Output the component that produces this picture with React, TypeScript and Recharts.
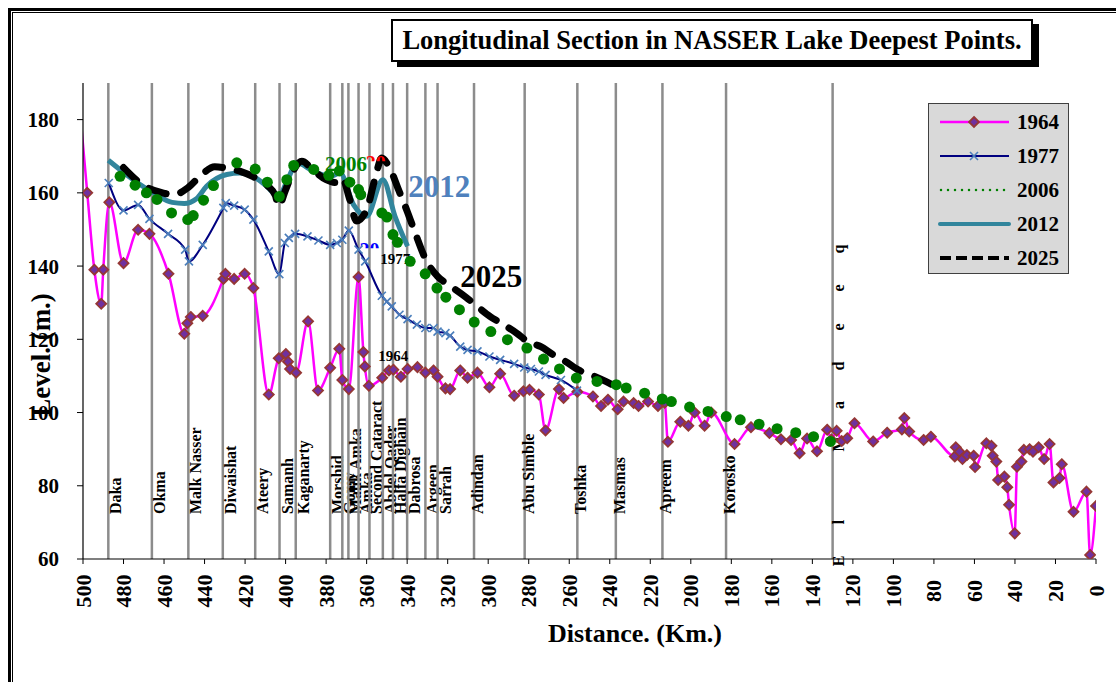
import React from "react";
import {
  LineChart,
  Line,
  XAxis,
  YAxis,
  ReferenceLine,
  ReferenceDot,
  Legend,
} from "recharts";

const FONT = '"Liberation Serif", "Times New Roman", Times, serif';

// 1964 survey (km from dam, level m)
const km1964 = [
  503.5, 497.9, 494.4, 491, 490, 487, 480, 472.8, 467.2, 457.8, 450, 448.5, 446.8, 440.9,
  430.7, 429.7, 425.4, 420.2, 415.9, 408.3, 403.4, 399.9, 398.8, 397.8, 394.8, 388.9,
  384, 378, 373.5, 372, 368.8, 364, 361.6, 360.9, 358.9, 352.3, 349, 346.8, 343.1,
  339.8, 334.9, 331, 327, 325, 321.1, 318.8, 313.8, 310.2, 305.3, 299.4, 294.1, 287.2,
  282.6, 279.6, 275, 271.7, 265.1, 262.8, 256, 248.3, 244.3, 240.9, 236.1, 233.2,
  228.2, 225.8, 221.1, 216.2, 212.9, 211.3, 205.2, 201.2, 198.1, 193.2, 189.9, 178.4,
  170.3, 161.2, 155.5, 150.5, 146.3, 142.6, 137.7, 132.7, 130.6, 128, 125.5, 122.8,
  119.2, 110, 103.1, 95.8, 94.6, 92.2, 85.1, 81.5, 69.7, 69.2, 67.4, 65.9, 63.7, 60.4,
  59.7, 54.1, 51.6, 51, 49.2, 48.3, 45.2, 43.8, 42.9, 40.1, 39, 36.8, 35.6, 32.8, 31.1,
  28.3, 25.6, 22.9, 21, 18, 16.9, 11.1, 4.7, 2.9, 0,
];
const lv1964 = [
  195, 160, 139, 129.7, 139, 157.4, 140.8, 149.9, 148.8, 137.9, 121.5, 124.4, 126.1, 126.4,
  136.5, 137.9, 136.5, 137.9, 134, 104.9, 114.8, 116, 113.9, 111.9, 110.9, 124.9,
  106, 112.2, 117.4, 108.9, 106.4, 137, 116.5, 112.6, 107.3, 109.5, 111.5, 111.7, 109.8,
  111.9, 112.4, 110.9, 111.5, 109.8, 106.6, 106.4, 111.5, 109.5, 110.9, 106.9, 110.6, 104.6,
  105.8, 106.2, 104.9, 95.1, 106.4, 104, 105.7, 104.4, 101.8, 103.5, 100.9, 103,
  102.6, 101.8, 103, 101.8, 102.7, 92, 97.5, 96.4, 100, 96.4, 100, 91.4,
  96, 94.4, 92.7, 92.5, 88.9, 92.9, 89.4, 95.3, 92.6, 95, 92.2, 93,
  97.1, 92.1, 94.5, 95.4, 98.5, 94.8, 92.5, 93.4, 88, 90.5, 89.3, 87.3, 88.4, 88.2,
  85.1, 91.6, 90.9, 88.2, 86.6, 81.6, 82.5, 79.6, 74.8, 67, 85.2, 86.6, 89.8, 90, 89.3,
  90.5, 87.3, 91.4, 80.9, 82.1, 85.9, 72.9, 78.4, 61.1, 74.5,
];

const km1977 = [
  487.3, 480, 472.8, 467.2, 458, 449.6, 447.7, 440.9, 430.7, 429.5, 425.4, 420.2, 415.9,
  408.3, 403.1, 400.4, 398.4, 395.3, 389.2, 383.8, 378, 374.7, 372, 368.8, 364, 360.7,
  352.5, 350, 347.6, 343.8, 339.8, 335.2, 331, 327, 325, 321.1, 318.8, 313.8, 310.2,
  305.3, 299.4, 294.1, 287.2, 282.2, 278.9, 275, 271.7, 264.1, 256.2,
];
const lv1977 = [
  162.7, 155.2, 156.7, 152.9, 148.8, 144.5, 141.3, 145.8, 155.9, 157.2, 156.5, 155.4, 152.7,
  144, 137.8, 146.3, 147.7, 148.8, 148.1, 147, 145.8, 146.3, 147.2, 149.7, 144.5, 141.3,
  131.9, 130.3, 129, 126.7, 125.5, 124, 123.1, 123.1, 122.1, 121.7, 121, 118, 117.1,
  116.7, 115.3, 114.4, 113.3, 112.3, 111.9, 111.2, 110.3, 108.9, 106,
];

const km2006 = [
  481.7, 474.3, 468.7, 463.5, 456.3, 448.3, 445.6, 440.5, 435.6, 424.1, 415, 409, 403.1,
  399.4, 396, 386.1, 378.7, 373.5, 368.3, 364, 362.9, 352.5, 350, 347, 344.8, 338.5,
  331.1, 325.3, 320.9, 314.2, 306.9, 298.7, 290.5, 280.9, 272.7, 264.8, 256.5, 246.3,
  236.8, 231.9, 222.8, 214.1, 209.6, 200.6, 191.5, 182.5, 175.6, 166.3, 157.4, 148.2,
  139.4, 131.1,
];
const lv2006 = [
  164.5, 162.1, 160, 158.2, 154.5, 152.7, 153.8, 158, 162, 168.2, 166.5, 162.9, 159,
  163.6, 167.5, 166.4, 164.8, 166, 162.9, 160.9, 159.5, 154.5, 153.4, 148.6, 146.5, 141.3,
  137.9, 134, 131.5, 128.1, 124.7, 122.1, 119.9, 117.6, 114.6, 111.9, 109.4, 108.5,
  107.6, 106.7, 105.3, 103.7, 103, 101.5, 100.3, 98.9, 98, 96.8, 95.6, 94.5,
  93.4, 92.1,
];

const km2012 = [
  487.5, 475.2, 465.3, 456, 450, 444, 439, 429, 422.5, 416, 409.3, 403.6, 398.6, 394.5,
  386.3, 378, 373.1, 366.5, 360, 352, 346, 339.8,
];
const lv2012 = [
  168.9, 163.6, 160, 157.4, 157.1, 158.4, 161.8, 165, 165.4, 164.5, 161.8, 159, 164.1, 168.2,
  165.9, 164.5, 165.4, 156.8, 153.6, 163.6, 153.6, 145.4,
];

const km2025 = [
  480, 470, 462, 455, 448, 441, 435, 428, 422, 416, 409, 405, 403.5, 400, 396, 392, 386,
  380, 375.5, 372, 368.5, 365, 360, 356, 352.5, 349, 344, 340, 336, 331, 325, 320, 316,
  311, 305, 299, 293, 286, 280, 274, 268, 262, 255, 248, 242, 237,
];
const lv2025 = [
  166.9, 162, 160.2, 159.5, 161.5, 165.2, 167.1, 166.6, 165.8, 164.4, 162, 159.2, 156.3,
  160.8, 166.2, 168.6, 166, 163.6, 162.8, 164, 158.5, 152.3, 155.4, 163.6, 169.5, 167.2,
  160.5, 155, 149, 142, 137.2, 135, 133.5, 131.5, 128.8, 126.2, 124.2, 121.7, 119.2, 118,
  115.8, 114, 111.5, 110, 108.5, 107.1,
];

// stations along the lake
const stationNames = [
  "Daka", "Okma", "Malk Nasser", "Diwaishat", "Ateery", "Samanh", "Kaganarty", "Morshid",
  "Gomy", "Malik Amka", "Amka", "Second Cataract", "Abdel Qader", "Halfa Dighain",
  "Dabrosa", "Argeen", "Sarrah", "Adindan", "Abu Simble", "Toshka", "Masmas", "Apreem",
  "Korosko",
];
const stationKm = [
  487.5, 466, 448, 431, 415, 403, 395, 378, 372, 369, 364, 358.6, 352, 347, 340, 331, 325,
  307, 282, 256, 237, 214, 182.6,
];
const madeeqName = "El Madeeq";
const madeeqKm = 130;

// in-plot year tags
const tagText = ["2006", "2012", "2025", "1977", "1964"];
const tagKm = [380.5, 339.5, 313.8, 353.3, 354.3];
const tagLevel = [165.9, 159.0, 134.4, 140.6, 114.1];
// half-hidden tags peeking out near the cataract
const peekText = ["20", "20"];
const peekKm = [360.5, 363.5];
const peekLevel = [166.2, 142.4];

const xTicks = [0, 20, 40, 60, 80, 100, 120, 140, 160, 180, 200, 220, 240, 260, 280, 300, 320, 340, 360, 380, 400, 420, 440, 460, 480, 500];
const yTicks = [60, 80, 100, 120, 140, 160, 180];

const toRows = (ks: number[], vs: number[]) => ks.map((km, i) => ({ km, lv: vs[i] }));
const d1964 = toRows(km1964, lv1964);
const d1977 = toRows(km1977, lv1977);
const d2006 = toRows(km2006, lv2006);
const d2012 = toRows(km2012, lv2012);
const d2025 = toRows(km2025, lv2025);

const tagStyle: Record<string, { color: string; size: number }> = {
  "2006": { color: "#008000", size: 21 },
  "2012": { color: "#4f81bd", size: 31 },
  "2025": { color: "#000", size: 31 },
  "1977": { color: "#000", size: 15 },
  "1964": { color: "#000", size: 15 },
};
const peekColor = ["#ff0000", "#0000ff"];

function Diamond(p: any) {
  const { cx, cy, index, payload } = p;
  if (cx == null || cy == null || (payload && payload.km > 500)) return <g key={`dm${index}`} />;
  return (
    <polygon
      key={`dm${index}`}
      points={`${cx},${cy - 5} ${cx + 5},${cy} ${cx},${cy + 5} ${cx - 5},${cy}`}
      fill="#7030a0"
      stroke="#953735"
      strokeWidth={1.8}
    />
  );
}

function XMark(p: any) {
  const { cx, cy, index } = p;
  if (cx == null || cy == null) return <g key={`xm${index}`} />;
  return (
    <g key={`xm${index}`} stroke="#4a7ebb" strokeWidth={1.6}>
      <line x1={cx - 4} y1={cy - 4} x2={cx + 4} y2={cy + 4} />
      <line x1={cx - 4} y1={cy + 4} x2={cx + 4} y2={cy - 4} />
    </g>
  );
}

function GreenDot(p: any) {
  const { cx, cy, index } = p;
  if (cx == null || cy == null) return <g key={`gd${index}`} />;
  return <circle key={`gd${index}`} cx={cx} cy={cy} r={5.5} fill="#008000" />;
}

function XTick(p: any) {
  const { x, y, payload } = p;
  const cy = y + 25;
  return (
    <text
      x={x}
      y={cy}
      transform={`rotate(-90 ${x} ${cy})`}
      textAnchor="middle"
      dominantBaseline="central"
      fontFamily={FONT}
      fontWeight="bold"
      fontSize={22}
      fill="#000"
    >
      {payload.value}
    </text>
  );
}

function stationLabel(name: string, km: number) {
  return (lp: any) => {
    const vb = lp.viewBox || {};
    const x = vb.x + (km > 320 ? 13 : 9);
    const y = vb.y + vb.height - 45;
    return (
      <text
        x={x}
        y={y}
        transform={`rotate(-90 ${x} ${y})`}
        textAnchor="start"
        fontFamily={FONT}
        fontWeight="bold"
        fontSize={16}
        fill="#000"
      >
        {name}
      </text>
    );
  };
}

function madeeqLabel(lp: any) {
  const vb = lp.viewBox || {};
  const x = vb.x + 11;
  const bottom = vb.y + vb.height + 2;
  return (
    <g>
      {madeeqName.split("").map((ch, i) => {
        const y = bottom - i * 39;
        return (
          <text
            key={i}
            x={x}
            y={y}
            transform={`rotate(-90 ${x} ${y})`}
            textAnchor="middle"
            fontFamily={FONT}
            fontWeight="bold"
            fontSize={16}
            fill="#000"
          >
            {ch}
          </text>
        );
      })}
    </g>
  );
}

function tagLabel(txt: string) {
  return (lp: any) => {
    const vb = lp.viewBox || {};
    const st = tagStyle[txt];
    return (
      <text x={vb.x} y={vb.y} fontFamily={FONT} fontWeight="bold" fontSize={st.size} fill={st.color}>
        {txt}
      </text>
    );
  };
}

function peekLabel(txt: string, i: number) {
  return (lp: any) => {
    const vb = lp.viewBox || {};
    const id = `peek${i}`;
    return (
      <g>
        <defs>
          <clipPath id={id}>
            <rect x={vb.x - 2} y={vb.y - 16} width={24} height={7} />
          </clipPath>
        </defs>
        <text x={vb.x} y={vb.y} clipPath={`url(#${id})`} fontFamily={FONT} fontWeight="bold" fontSize={20} fill={peekColor[i]}>
          {txt}
        </text>
      </g>
    );
  };
}

const legendRows = ["1964", "1977", "2006", "2012", "2025"];

function LegendBox() {
  return (
    <div
      style={{
        width: 141,
        height: 171,
        background: "#d9d9d9",
        border: "1px solid #404040",
        boxSizing: "border-box",
        position: "relative",
        fontFamily: FONT,
      }}
    >
      {legendRows.map((name, i) => (
        <div
          key={name}
          style={{ position: "absolute", left: 0, top: 18 + i * 34 - 12, height: 24, display: "flex", alignItems: "center" }}
        >
          <svg width={88} height={24}>
            {name === "1964" && (
              <g>
                <line x1={11} y1={12} x2={80} y2={12} stroke="#ff00ff" strokeWidth={2.5} />
                <polygon points="45,7 50,12 45,17 40,12" fill="#7030a0" stroke="#953735" strokeWidth={1.8} />
              </g>
            )}
            {name === "1977" && (
              <g>
                <line x1={11} y1={12} x2={80} y2={12} stroke="#000080" strokeWidth={2} />
                <g stroke="#4a7ebb" strokeWidth={1.6}>
                  <line x1={41} y1={8} x2={49} y2={16} />
                  <line x1={41} y1={16} x2={49} y2={8} />
                </g>
              </g>
            )}
            {name === "2006" && (
              <line x1={12} y1={12} x2={80} y2={12} stroke="#008000" strokeWidth={2.5} strokeDasharray="0 7" strokeLinecap="round" />
            )}
            {name === "2012" && (
              <line x1={11} y1={12} x2={80} y2={12} stroke="#31859c" strokeWidth={4} strokeLinecap="round" />
            )}
            {name === "2025" && (
              <line x1={11} y1={12} x2={80} y2={12} stroke="#000" strokeWidth={4} strokeDasharray="11 5" />
            )}
          </svg>
          <span style={{ fontFamily: FONT, fontSize: 21, fontWeight: "bold", color: "#000" }}>{name}</span>
        </div>
      ))}
    </div>
  );
}

export default function App() {
  return (
    <div
      style={{
        position: "absolute",
        left: 0,
        top: 0,
        width: 1116,
        height: 682,
        background: "#fff",
        overflow: "hidden",
        fontFamily: FONT,
      }}
    >
      <div style={{ position: "absolute", left: 8, top: 8, width: 1300, height: 900, borderLeft: "3px solid #000", borderTop: "3px solid #000" }} />
      <div style={{ position: "absolute", left: 12, top: 12, width: 1300, height: 900, borderLeft: "1.5px solid #000", borderTop: "1.5px solid #000" }} />

      <div style={{ position: "absolute", left: 0, top: 0 }}>
        <LineChart width={1116} height={682} margin={{ top: 83, right: 20, left: 23, bottom: 63 }}>
          <XAxis
            type="number"
            dataKey="km"
            domain={[0, 500]}
            reversed
            ticks={xTicks}
            interval={0}
            height={60}
            tick={<XTick />}
            tickSize={5}
            axisLine={{ stroke: "#000", strokeWidth: 1.2 }}
            tickLine={{ stroke: "#000" }}
            allowDataOverflow
          />
          <YAxis
            type="number"
            domain={[60, 190]}
            ticks={yTicks}
            interval={0}
            width={60}
            tickSize={6}
            tickMargin={18}
            axisLine={{ stroke: "#000", strokeWidth: 1.2 }}
            tickLine={{ stroke: "#000" }}
            tick={{ fontFamily: FONT, fontWeight: "bold", fontSize: 21, fill: "#000" }}
            allowDataOverflow
          />
          {stationNames.map((name, i) => (
            <ReferenceLine
              key={name}
              x={stationKm[i]}
              stroke="#8c8c8c"
              strokeWidth={2.5}
              label={stationLabel(name, stationKm[i])}
            />
          ))}
          <ReferenceLine x={madeeqKm} stroke="#8c8c8c" strokeWidth={2.5} label={madeeqLabel} />

          {peekText.map((t, i) => (
            <ReferenceDot key={`pk${i}`} x={peekKm[i]} y={peekLevel[i]} r={0} fill="none" stroke="none" label={peekLabel(t, i)} />
          ))}

          <Line data={d1964} dataKey="lv" type="monotone" stroke="#ff00ff" strokeWidth={2.5} dot={Diamond} activeDot={false} isAnimationActive={false} />
          <Line data={d1977} dataKey="lv" type="monotone" stroke="#000080" strokeWidth={2} dot={XMark} activeDot={false} isAnimationActive={false} />
          <Line data={d2012} dataKey="lv" type="monotone" stroke="#31859c" strokeWidth={5} dot={false} activeDot={false} isAnimationActive={false} />
          <Line data={d2006} dataKey="lv" type="monotone" stroke="none" dot={GreenDot} activeDot={false} isAnimationActive={false} />
          <Line data={d2025} dataKey="lv" type="monotone" stroke="#000" strokeWidth={7} strokeDasharray="18 15" strokeLinecap="round" dot={false} activeDot={false} isAnimationActive={false} />

          {tagText.map((t, i) => (
            <ReferenceDot key={t} x={tagKm[i]} y={tagLevel[i]} r={0} fill="none" stroke="none" label={tagLabel(t)} />
          ))}

          <Legend
            layout="vertical"
            align="center"
            verticalAlign="middle"
            content={<LegendBox />}
            wrapperStyle={{ left: 928, top: 103, width: 141, height: 171 }}
          />
        </LineChart>
      </div>

      <div
        style={{
          position: "absolute",
          left: 391,
          top: 19,
          width: 642,
          height: 43,
          boxSizing: "border-box",
          border: "2px solid #000",
          boxShadow: "6px 5px 0 #000",
          background: "#fff",
          textAlign: "center",
          lineHeight: "39px",
          fontFamily: FONT,
          fontSize: 26.5,
          fontWeight: "bold",
          color: "#000",
          whiteSpace: "nowrap",
        }}
      >
        Longitudinal Section in NASSER Lake Deepest Points.
      </div>

      <svg width={1116} height={682} style={{ position: "absolute", left: 0, top: 0, pointerEvents: "none" }}>
        <text x={635} y={642} textAnchor="middle" fontFamily={FONT} fontWeight="bold" fontSize={26} fill="#000">
          Distance. (Km.)
        </text>
        <text x={50} y={355} transform="rotate(-90 50 355)" textAnchor="middle" fontFamily={FONT} fontWeight="bold" fontSize={27} fill="#000">
          Level. (m.)
        </text>
      </svg>
    </div>
  );
}
